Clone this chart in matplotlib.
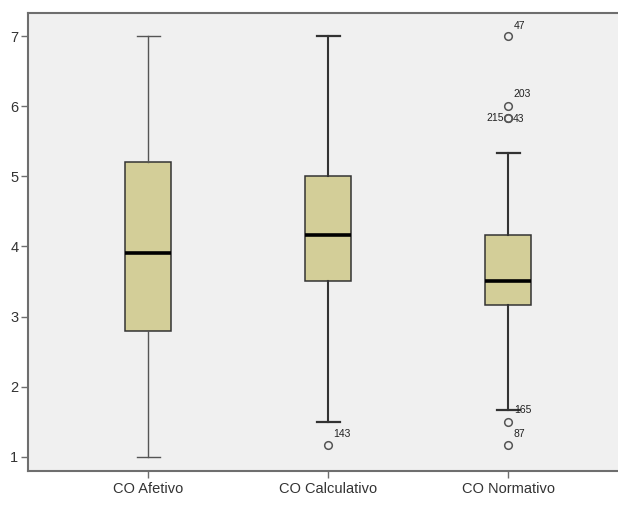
import matplotlib.pyplot as plt

plt.rcParams["font.family"] = ["Liberation Sans", "DejaVu Sans"]

groups = ["CO Afetivo", "CO Calculativo", "CO Normativo"]
whisker_low = [1.0, 1.5, 1.667]
q1 = [2.8, 3.5, 3.167]
median = [3.9, 4.167, 3.5]
q3 = [5.2, 5.0, 4.167]
whisker_high = [7.0, 7.0, 5.333]

# outliers per group: (value, case id)
outlier_vals = [[], [1.167], [7.0, 6.0, 5.833, 5.833, 1.5, 1.167]]
outlier_ids = [[], ["143"], ["47", "203", "215", "43", "165", "87"]]

box_fill = "#d3ce98"
bg = "#f0f0f0"
axis_grey = "#6e6e6e"

stats = []
for i, name in enumerate(groups):
    stats.append({
        "label": name,
        "whislo": whisker_low[i],
        "q1": q1[i],
        "med": median[i],
        "q3": q3[i],
        "whishi": whisker_high[i],
        "fliers": outlier_vals[i],
    })

fig = plt.figure(figsize=(6.18, 5.07), dpi=100)
ax = fig.add_axes([28 / 618, 36 / 507, 590 / 618, 458 / 507])
ax.set_facecolor(bg)

positions = [1, 2, 3]
parts = ax.bxp(stats, positions=positions, widths=0.255, patch_artist=True,
               showfliers=True,
               boxprops=dict(facecolor=box_fill, edgecolor="#333333", linewidth=1.1),
               medianprops=dict(color="black", linewidth=2.6),
               whiskerprops=dict(color="#333333", linewidth=1.5),
               capprops=dict(color="#333333", linewidth=1.6),
               capwidths=0.128,
               flierprops=dict(marker="o", markersize=5.5, markerfacecolor="none",
                               markeredgecolor="#555555", markeredgewidth=1.1))

# first group's whiskers are drawn lighter
for line in parts["whiskers"][:2] + parts["caps"][:2]:
    line.set_linewidth(1.0)
    line.set_color("#555555")

# case labels next to the outliers
label_offsets = {
    "143": (4, 4, "left"),
    "47": (4, 4, "left"),
    "203": (4, 5, "left"),
    "215": (-3, 0, "right"),
    "43": (3, -1, "left"),
    "165": (4, 5, "left"),
    "87": (4, 4, "left"),
}
for i in range(len(groups)):
    for val, cid in zip(outlier_vals[i], outlier_ids[i]):
        dx, dy, ha = label_offsets[cid]
        ax.annotate(cid, xy=(positions[i], val), xytext=(dx, dy),
                    textcoords="offset points", ha=ha, va="bottom" if dy > 0 else "center",
                    fontsize=7.5, color="#222222")

ax.set_xlim(0.333, 3.61)
ax.set_ylim(0.796, 7.33)
ax.set_yticks([1, 2, 3, 4, 5, 6, 7])
ax.set_xticks(positions)
ax.set_xticklabels(groups)

for side in ["left", "bottom", "top"]:
    ax.spines[side].set_color(axis_grey)
    ax.spines[side].set_linewidth(1.5)
ax.spines["right"].set_visible(False)

ax.tick_params(axis="both", direction="out", length=5, width=1, color=axis_grey,
               labelsize=10.5, labelcolor="#333333", pad=2)
ax.tick_params(axis="x", pad=3)

fig.savefig("out.png", dpi=100, facecolor="white")
